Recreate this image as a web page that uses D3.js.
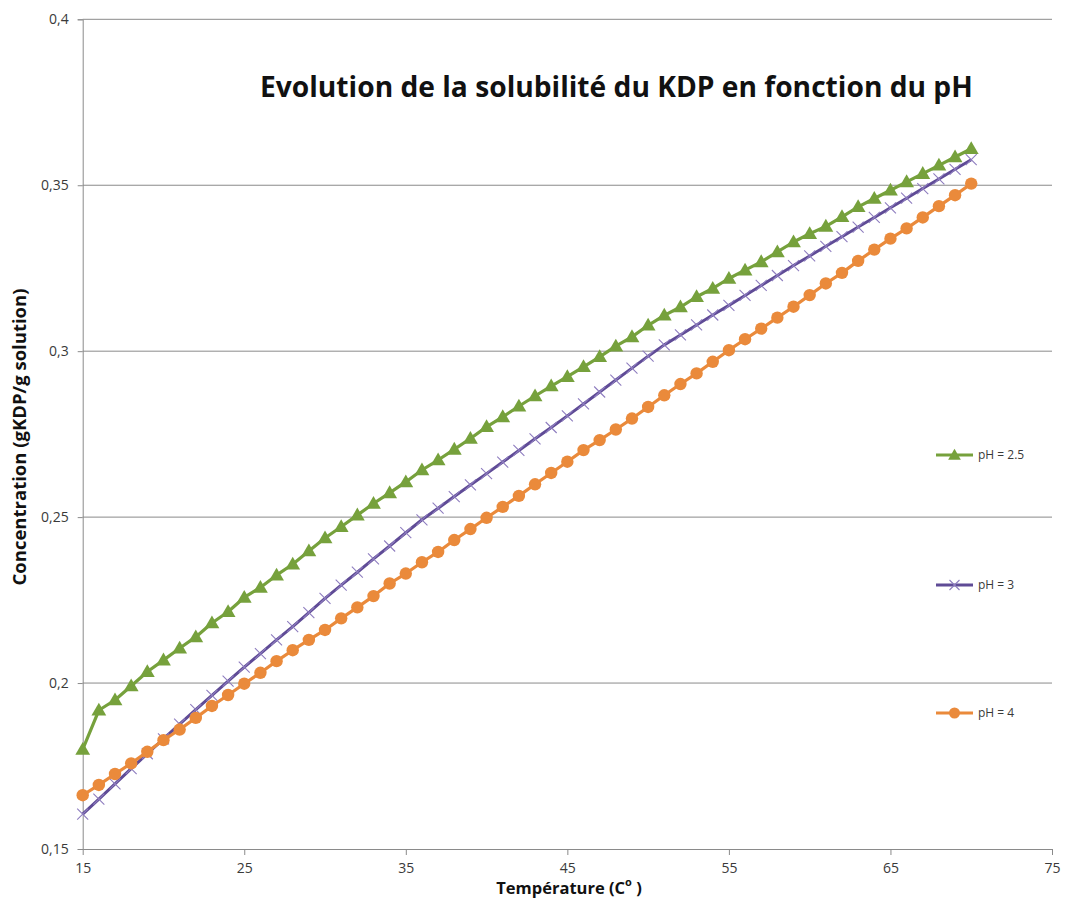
<!DOCTYPE html>
<html>
<head>
<meta charset="utf-8">
<script src="https://cdn.jsdelivr.net/npm/d3@7"></script>
<style>
  html, body { margin: 0; padding: 0; background: #fff; }
  svg { display: block; }
</style>
</head>
<body>
<svg id="chart" width="1067" height="900"></svg>
<script>
// ---- data ----
const temperatures = d3.range(15, 71); // 15..70 step 1
const ph25 = [0.180,0.1918,0.1949,0.1991,0.2034,0.2069,0.2105,0.2139,0.2181,0.2215,
              0.2258,0.2288,0.2325,0.2358,0.2398,0.2437,0.2471,0.2506,0.2541,0.2573,
              0.2606,0.2642,0.2672,0.2704,0.2737,0.2772,0.2802,0.2834,0.2865,0.2895,
              0.2923,0.2953,0.2983,0.3015,0.3043,0.3078,0.3108,0.3133,0.3164,0.3189,
              0.3219,0.3244,0.3269,0.3299,0.3329,0.3354,0.3376,0.3405,0.3435,0.3460,
              0.3485,0.3510,0.3535,0.3560,0.3585,0.3610];
const ph3  = [0.1605,0.1650,0.1696,0.1742,0.1787,0.1832,0.1876,0.1920,0.1963,0.2006,
              0.2048,0.2089,0.2130,0.2170,0.2212,0.2255,0.2295,0.2334,0.2374,0.2413,
              0.2453,0.2492,0.2527,0.2562,0.2597,0.2631,0.2666,0.2701,0.2736,0.2770,
              0.2805,0.2841,0.2877,0.2913,0.2949,0.2985,0.3019,0.3049,0.3079,0.3109,
              0.3138,0.3168,0.3198,0.3228,0.3258,0.3287,0.3316,0.3345,0.3374,0.3403,
              0.3432,0.3461,0.3490,0.3519,0.3548,0.3577];
const ph4  = [0.1662,0.1693,0.1726,0.1758,0.1793,0.1828,0.1860,0.1895,0.1931,0.1964,
              0.1998,0.2031,0.2066,0.2099,0.2130,0.2160,0.2195,0.2228,0.2262,0.2300,
              0.2330,0.2364,0.2395,0.2431,0.2464,0.2498,0.2531,0.2564,0.2599,0.2633,
              0.2667,0.2702,0.2732,0.2764,0.2797,0.2832,0.2867,0.2901,0.2933,0.2968,
              0.3003,0.3036,0.3068,0.3101,0.3134,0.3169,0.3204,0.3236,0.3272,0.3306,
              0.3339,0.3370,0.3403,0.3437,0.3470,0.3505];
const xTicks = [15, 25, 35, 45, 55, 65, 75];
const yTicks = [0.15, 0.2, 0.25, 0.3, 0.35, 0.4];
const seriesNames = ["pH = 2.5", "pH = 3", "pH = 4"];
const titleText = "Evolution de la solubilité du KDP en fonction du pH";
const xTitle = "Température (C";
const yTitle = "Concentration (gKDP/g solution)";

// ---- layout ----
const svg = d3.select("#chart");
const plotL = 82.7, plotR = 1052, plotT = 19.3, plotB = 849;
const x = d3.scaleLinear().domain([15, 75]).range([plotL, plotR]);
const y = d3.scaleLinear().domain([0.15, 0.4]).range([plotB, plotT]);
const gridColor = "#8a8a8a";
const fontFam = "'Open Sans', 'Noto Sans', sans-serif";

// gridlines
svg.append("g").selectAll("line").data(yTicks.filter(d => d > 0.15)).join("line")
  .attr("x1", plotL).attr("x2", plotR)
  .attr("y1", d => y(d)).attr("y2", d => y(d))
  .attr("stroke", gridColor).attr("stroke-width", 1);

// y axis
const yAxis = svg.append("g").attr("transform", `translate(${plotL},0)`)
  .call(d3.axisLeft(y).tickValues(yTicks).tickSize(5).tickPadding(9)
        .tickFormat(d => String(+d.toFixed(2)).replace(".", ",")));
yAxis.select(".domain").attr("stroke", gridColor);
yAxis.selectAll(".tick line").attr("stroke", gridColor);
yAxis.selectAll("text").attr("font-family", fontFam).attr("font-size", 14).attr("fill", "#3a3a3a");

// x axis
const xAxis = svg.append("g").attr("transform", `translate(0,${plotB})`)
  .call(d3.axisBottom(x).tickValues(xTicks).tickSize(6).tickPadding(8).tickSizeOuter(0));
xAxis.select(".domain").attr("stroke", gridColor);
xAxis.selectAll(".tick line").attr("stroke", gridColor);
xAxis.selectAll("text").attr("font-family", fontFam).attr("font-size", 14).attr("fill", "#3a3a3a");

// ---- series ----
const colors = ["#76a13c", "#5f4b96", "#ea8a3b"];
const data = [ph25, ph3, ph4];
const line = d3.line().x((d, i) => x(temperatures[i])).y(d => y(d));

data.forEach((vals, s) => {
  const g = svg.append("g");
  g.append("path").datum(vals)
    .attr("d", line).attr("fill", "none")
    .attr("stroke", colors[s]).attr("stroke-width", s === 1 ? 3 : 3.2)
    .attr("stroke-linejoin", "round");
  if (s === 0) {
    g.selectAll("path.m").data(vals).join("path").attr("class", "m")
      .attr("transform", (d, i) => `translate(${x(temperatures[i])},${y(d) + 1})`)
      .attr("d", d3.symbol(d3.symbolTriangle, 95))
      .attr("fill", colors[0]);
  } else if (s === 1) {
    g.selectAll("path.m").data(vals).join("path").attr("class", "m")
      .attr("transform", (d, i) => `translate(${x(temperatures[i])},${y(d)})`)
      .attr("d", "M-5.5,-5.5L5.5,5.5M-5.5,5.5L5.5,-5.5")
      .attr("stroke", "#8e7dbf").attr("stroke-width", 1.1).attr("fill", "none");
  } else {
    g.selectAll("circle").data(vals).join("circle")
      .attr("cx", (d, i) => x(temperatures[i])).attr("cy", d => y(d))
      .attr("r", 6.2).attr("fill", colors[2]);
  }
});

// ---- legend ----
const legY = [455, 585, 713];
seriesNames.forEach((name, s) => {
  const g = svg.append("g").attr("transform", `translate(0,${legY[s]})`);
  g.append("line").attr("x1", 936).attr("x2", 973).attr("y1", 0).attr("y2", 0)
    .attr("stroke", colors[s]).attr("stroke-width", 3.2);
  const cx = 954.5;
  if (s === 0) {
    g.append("path").attr("transform", `translate(${cx},1)`)
      .attr("d", d3.symbol(d3.symbolTriangle, 70)).attr("fill", colors[0]);
  } else if (s === 1) {
    g.append("path").attr("transform", `translate(${cx},0)`)
      .attr("d", "M-5,-5L5,5M-5,5L5,-5").attr("stroke", "#8e7dbf").attr("stroke-width", 1.1);
  } else {
    g.append("circle").attr("cx", cx).attr("cy", 0).attr("r", 5.5).attr("fill", colors[2]);
  }
  g.append("text").attr("x", 978).attr("y", 0).attr("dy", "0.35em")
    .attr("font-family", fontFam).attr("font-size", 12).attr("fill", "#3a3a3a")
    .text(name);
});

// ---- titles ----
function fitText(t, w) {
  const cur = t.node().getComputedTextLength();
  const fs = parseFloat(t.attr("font-size"));
  t.attr("font-size", fs * w / cur);
}
const title = svg.append("text").attr("x", 260).attr("y", 97)
  .attr("font-family", fontFam).attr("font-weight", "bold").attr("font-size", 26)
  .attr("fill", "#111").text(titleText);
fitText(title, 713);

const xt = svg.append("text").attr("x", 569).attr("y", 894).attr("text-anchor", "middle")
  .attr("font-family", fontFam).attr("font-weight", "bold").attr("font-size", 16.5).attr("fill", "#111");
xt.append("tspan").text(xTitle);
xt.append("tspan").attr("dy", -8).attr("font-size", 11).text("o");
xt.append("tspan").attr("dy", 8).text(" )");

const yt = svg.append("text")
  .attr("transform", "translate(26,437) rotate(-90)").attr("text-anchor", "middle")
  .attr("font-family", fontFam).attr("font-weight", "bold").attr("font-size", 14).attr("fill", "#111")
  .text(yTitle);
fitText(yt, 297);
</script>
</body>
</html>
